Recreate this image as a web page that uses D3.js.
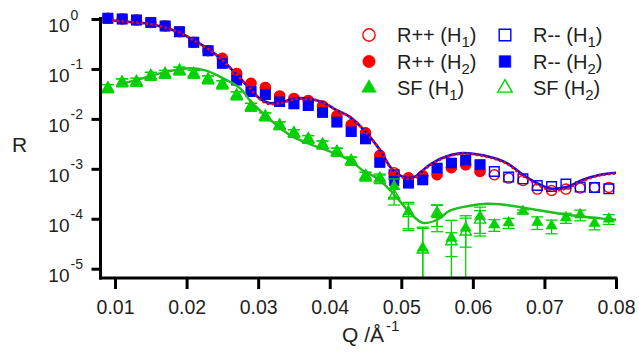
<!DOCTYPE html>
<html>
<head>
<meta charset="utf-8">
<script src="https://cdn.jsdelivr.net/npm/d3@7"></script>
<style>
  body { margin: 0; background: #fff; }
  text { font-family: "Liberation Sans", Arial, sans-serif; fill: #1e1e1e; }
</style>
</head>
<body>
<svg id="chart" width="639" height="356"></svg>
<script>
// Q values of the measured points
var q = [0.009, 0.011, 0.013, 0.015, 0.017, 0.019, 0.021, 0.023, 0.025, 0.027,
         0.029, 0.031, 0.033, 0.035, 0.037, 0.039, 0.041, 0.043, 0.045, 0.047,
         0.049, 0.051, 0.053, 0.055, 0.057, 0.059, 0.061, 0.063, 0.065, 0.067,
         0.069, 0.071, 0.073, 0.075, 0.077, 0.079];
var qH2 = q.slice(0, 27);

// reflectivities, field H1 (full range)
var rppH1 = [1.03, 1.0, 0.955, 0.851, 0.724, 0.557, 0.342, 0.232, 0.164, 0.0813,
             0.0518, 0.0427, 0.0288, 0.0257, 0.0234, 0.0182, 0.0115, 0.00759, 0.00525, 0.00186,
             0.00083, 0.000661, 0.000724, 0.000759, 0.00105, 0.0012, 0.000883, 0.000759, 0.000652, 0.000583,
             0.000393, 0.000368, 0.000393, 0.000412, 0.000423, 0.000423];
var rmmH1 = [1.03, 1.0, 0.955, 0.851, 0.724, 0.557, 0.342, 0.232, 0.130, 0.0603,
             0.0352, 0.0309, 0.0222, 0.0200, 0.0186, 0.0135, 0.0087, 0.00557, 0.00398, 0.00135,
             0.000759, 0.000518, 0.000603, 0.00103, 0.0013, 0.00147, 0.0012, 0.000883, 0.000682, 0.000631,
             0.000463, 0.000443, 0.000494, 0.000431, 0.000423, 0.000398];
// field H2 (up to 0.061)
var rppH2 = [1.03, 1.0, 0.955, 0.851, 0.724, 0.557, 0.342, 0.232, 0.164, 0.0813,
             0.0518, 0.0427, 0.0288, 0.0257, 0.0234, 0.0182, 0.0115, 0.00759, 0.00525, 0.00186,
             0.000759, 0.000661, 0.000724, 0.000759, 0.00105, 0.0012, 0.000883];
var rmmH2 = [1.03, 1.0, 0.955, 0.851, 0.724, 0.557, 0.342, 0.232, 0.130, 0.0603,
             0.0352, 0.0309, 0.0222, 0.0200, 0.0186, 0.0135, 0.0087, 0.00557, 0.00398, 0.00135,
             0.000575, 0.000518, 0.000603, 0.00103, 0.0013, 0.00147, 0.0012];

// spin flip with errors
var sfH1 = [0.0411, 0.0537, 0.055, 0.0724, 0.0794, 0.0925, 0.0794, 0.0617, 0.049, 0.0295,
            0.0174, 0.0112, 0.00741, 0.00518, 0.00393, 0.00306, 0.00219, 0.00145, 0.000714, 0.000646,
            0.000447, 0.000138, 0.000026, 0.00012, 0.000041, 0.000065, 0.000111, 0.000076, 0.000083, 0.00014,
            0.000085, 0.000072, 0.000105, 0.00012, 0.000081, 0.000099];
var sfH1Err = [0.0075, 0.0095, 0.01, 0.013, 0.014, 0.016, 0.014, 0.011, 0.009, 0.0053,
               0.0031, 0.002, 0.0013, 0.0009, 0.0007, 0.00055, 0.0004, 0.00027, 0.00014, 0.00014,
               0.00018, 0.000075, 0.000042, 0.000065, 0.000052, 0.000038, 0.00006, 0.00002, 0.000019, 0.00001,
               0.000024, 0.000022, 0.000024, 0.000029, 0.000021, 0.000022];
var sfH2 = [0.0411, 0.0537, 0.055, 0.0724, 0.0794, 0.0925, 0.0794, 0.0617, 0.049, 0.0295,
            0.0174, 0.0112, 0.00741, 0.00518, 0.00393, 0.00306, 0.00219, 0.00145, 0.000714, 0.00063,
            0.000288, 0.000128, 0.000024, 0.00013, 0.000035, 0.000055, 0.000095];
var sfH2Err = [0.0075, 0.0095, 0.01, 0.013, 0.014, 0.016, 0.014, 0.011, 0.009, 0.0053,
               0.0031, 0.002, 0.0013, 0.0009, 0.0007, 0.00055, 0.0004, 0.00027, 0.00014, 0.00012,
               0.0001, 0.00007, 0.00004, 0.00006, 0.0000175, 0.00006, 0.00005];

// fitted curves
var fitQ = [0.0096, 0.0125, 0.0149, 0.0173, 0.0191, 0.0209, 0.0229, 0.0247, 0.0269, 0.0289,
            0.0303, 0.0314, 0.0331, 0.0353, 0.0373, 0.0389, 0.0409, 0.0428, 0.0449, 0.047,
            0.0488, 0.0507, 0.0519, 0.0536, 0.0558, 0.0582, 0.06, 0.0628, 0.0648, 0.067,
            0.0694, 0.0711, 0.0732, 0.0754, 0.0778, 0.08];
var fitMM = [0.933, 0.859, 0.794, 0.652, 0.532, 0.380, 0.259, 0.164, 0.0794, 0.0398,
             0.0251, 0.0209, 0.0214, 0.0257, 0.0251, 0.0219, 0.0151, 0.0110, 0.00575, 0.0024,
             0.000955, 0.000661, 0.000692, 0.0011, 0.00166, 0.00204, 0.0020, 0.00166, 0.00129, 0.000759,
             0.000479, 0.000398, 0.000437, 0.000603, 0.000759, 0.000832];
var fitPP = [0.933, 0.859, 0.794, 0.652, 0.532, 0.380, 0.259, 0.164, 0.0794, 0.0398,
             0.0245, 0.0200, 0.0207, 0.0251, 0.0248, 0.0217, 0.0151, 0.0110, 0.00575, 0.0024,
             0.00093, 0.00063, 0.00066, 0.00106, 0.00162, 0.002, 0.00196, 0.00162, 0.00125, 0.00072,
             0.00045, 0.00037, 0.00041, 0.00058, 0.00074, 0.00081];
var sfFitQ = [0.0103, 0.0135, 0.0173, 0.0205, 0.0226, 0.0243, 0.0275, 0.0289, 0.0317, 0.0345,
              0.0373, 0.04, 0.0428, 0.0447, 0.0466, 0.0488, 0.0512, 0.053, 0.055, 0.0568,
              0.0592, 0.062, 0.0638, 0.0684, 0.0732, 0.0778, 0.08];
var sfFit = [0.0479, 0.0631, 0.0883, 0.1033, 0.0933, 0.0741, 0.0407, 0.0229, 0.00955, 0.00468,
             0.00309, 0.00224, 0.00148, 0.000912, 0.000646, 0.000331, 0.000132, 0.000083, 0.0000955, 0.000145,
             0.000178, 0.0002, 0.000195, 0.000155, 0.00012, 0.000102, 0.0000955];

// axes
var xTicks = [0.01, 0.02, 0.03, 0.04, 0.05, 0.06, 0.07, 0.08];
var yTicks = [1, 0.1, 0.01, 0.001, 0.0001, 0.00001];
var yExp = ["0", "-1", "-2", "-3", "-4", "-5"];

var RED = "#ff0000", BLUE = "#0000ff", GREEN = "#00d400", GREEN_LINE = "#1cbf1c";

var svg = d3.select("#chart");

var x = d3.scaleLinear().domain([0.0079, 0.08]).range([100, 616]);
var y = d3.scaleLog().domain([1e-5, 1]).range([268.7, 19]);
var yBottom = 278;

function zip(xs, ys) { return xs.map(function(v, i) { return [v, ys[i]]; }); }

var sym = {
  circle: function(s) { return d3.symbol().type(d3.symbolCircle).size(s || 80)(); },
  square: function(s) { return d3.symbol().type(d3.symbolSquare).size(s || 92)(); },
  triangle: function(s) { return d3.symbol().type(d3.symbolTriangle).size(s || 54)(); }
};

var series = [
  { label: "R++ (H", sub: "1", qs: q,   vals: rppH1, shape: "circle",   color: RED,   filled: false },
  { label: "R-- (H", sub: "1", qs: q,   vals: rmmH1, shape: "square",   color: BLUE,  filled: false },
  { label: "R++ (H", sub: "2", qs: qH2, vals: rppH2, shape: "circle",   color: RED,   filled: true },
  { label: "R-- (H", sub: "2", qs: qH2, vals: rmmH2, shape: "square",   color: BLUE,  filled: true },
  { label: "SF (H",  sub: "1", qs: q,   vals: sfH1,  err: sfH1Err, shape: "triangle", color: GREEN, filled: true },
  { label: "SF (H",  sub: "2", qs: qH2, vals: sfH2,  err: sfH2Err, shape: "triangle", color: GREEN, filled: false }
];

var plot = svg.append("g");

// markers and error bars
series.forEach(function(s) {
  var pts = zip(s.qs, s.vals);
  if (s.err) {
    var eb = plot.append("g").attr("stroke", s.color).attr("stroke-width", 1.3).attr("fill", "none");
    pts.forEach(function(p, i) {
      var e = s.err[i];
      if (!e) return;
      var px = x(p[0]);
      var top = y(p[1] + e);
      var low = p[1] - e;
      var bot = low > 0 ? Math.min(y(low), yBottom) : yBottom;
      eb.append("line").attr("x1", px).attr("x2", px).attr("y1", top).attr("y2", bot);
      eb.append("line").attr("x1", px - 6).attr("x2", px + 6).attr("y1", top).attr("y2", top);
      if (low > 0 && bot < yBottom)
        eb.append("line").attr("x1", px - 6).attr("x2", px + 6).attr("y1", bot).attr("y2", bot);
    });
  }
  plot.append("g").selectAll("path")
    .data(pts)
    .enter().append("path")
      .attr("transform", function(d) { return "translate(" + x(d[0]) + "," + y(d[1]) + ")"; })
      .attr("d", sym[s.shape]())
      .attr("fill", s.filled ? s.color : "none")
      .attr("stroke", s.color)
      .attr("stroke-width", s.filled ? 0.6 : 1.4);
});

// fit lines
var line = d3.line()
  .x(function(d) { return x(d[0]); })
  .y(function(d) { return y(d[1]); })
  .curve(d3.curveCatmullRom.alpha(0.5));

plot.append("path").datum(zip(fitQ, fitMM))
  .attr("d", line).attr("fill", "none").attr("stroke", BLUE).attr("stroke-width", 2.6);
plot.append("path").datum(zip(fitQ, fitPP))
  .attr("d", line).attr("fill", "none").attr("stroke", RED).attr("stroke-width", 2.6)
  .attr("stroke-dasharray", "2.4,2.4");
plot.append("path").datum(zip(sfFitQ, sfFit))
  .attr("d", line).attr("fill", "none").attr("stroke", GREEN_LINE).attr("stroke-width", 2.4);

// x axis
var xAxis = d3.axisBottom(x)
  .tickValues(xTicks)
  .tickSize(11)
  .tickPadding(11)
  .tickFormat(d3.format(".2f"));
var gx = svg.append("g").attr("transform", "translate(0," + yBottom + ")").call(xAxis);
gx.select(".domain").remove();
gx.selectAll(".tick line").attr("stroke", "#000").attr("stroke-width", 3);
gx.selectAll(".tick text").attr("font-size", 19.5).attr("font-family", null).attr("fill", "#1e1e1e");

// y axis
var yAxis = d3.axisLeft(y).tickValues(yTicks).tickSize(9).tickFormat("");
var gy = svg.append("g").attr("transform", "translate(100.5,0)").call(yAxis);
gy.select(".domain").remove();
gy.selectAll(".tick line").attr("stroke", "#000").attr("stroke-width", 3);
gy.selectAll(".tick").each(function(d, i) {
  var t = d3.select(this);
  t.append("text").attr("x", -31).attr("y", 12.5).attr("text-anchor", "end")
    .attr("font-size", 19).text("10");
  t.append("text").attr("x", -30).attr("y", 0).attr("text-anchor", "start")
    .attr("font-size", 14).text(yExp[i]);
});

// axis lines
svg.append("line").attr("x1", 100.5).attr("x2", 100.5).attr("y1", 17).attr("y2", yBottom + 1.5)
  .attr("stroke", "#000").attr("stroke-width", 3);
svg.append("line").attr("x1", 99).attr("x2", 617.5).attr("y1", yBottom).attr("y2", yBottom)
  .attr("stroke", "#000").attr("stroke-width", 3);

// axis titles
svg.append("text").attr("x", 12).attr("y", 152).attr("font-size", 21).text("R");
var xt = svg.append("text").attr("x", 342).attr("y", 342).attr("font-size", 21);
xt.append("tspan").text("Q /Å");
xt.append("tspan").attr("dy", -11).attr("dx", 2).attr("font-size", 15).text("-1");

// legend
var legendPos = [[369, 35], [505, 35], [369, 61.5], [505, 61.5], [369, 88], [505, 88]];
var legendSize = { circle: 120, square: 135, triangle: 90 };
series.forEach(function(s, i) {
  var p = legendPos[i];
  var row = svg.append("g").attr("transform", "translate(" + p[0] + "," + p[1] + ")");
  row.append("path")
    .attr("d", sym[s.shape](legendSize[s.shape]))
    .attr("fill", s.filled ? s.color : "none")
    .attr("stroke", s.color)
    .attr("stroke-width", s.filled ? 0.6 : 1.4);
  var t = row.append("text").attr("x", 28).attr("y", 7).attr("font-size", 20);
  t.append("tspan").text(s.label);
  t.append("tspan").attr("dy", 5).attr("font-size", 15).text(s.sub);
  t.append("tspan").attr("dy", -5).text(")");
});
</script>
</body>
</html>
